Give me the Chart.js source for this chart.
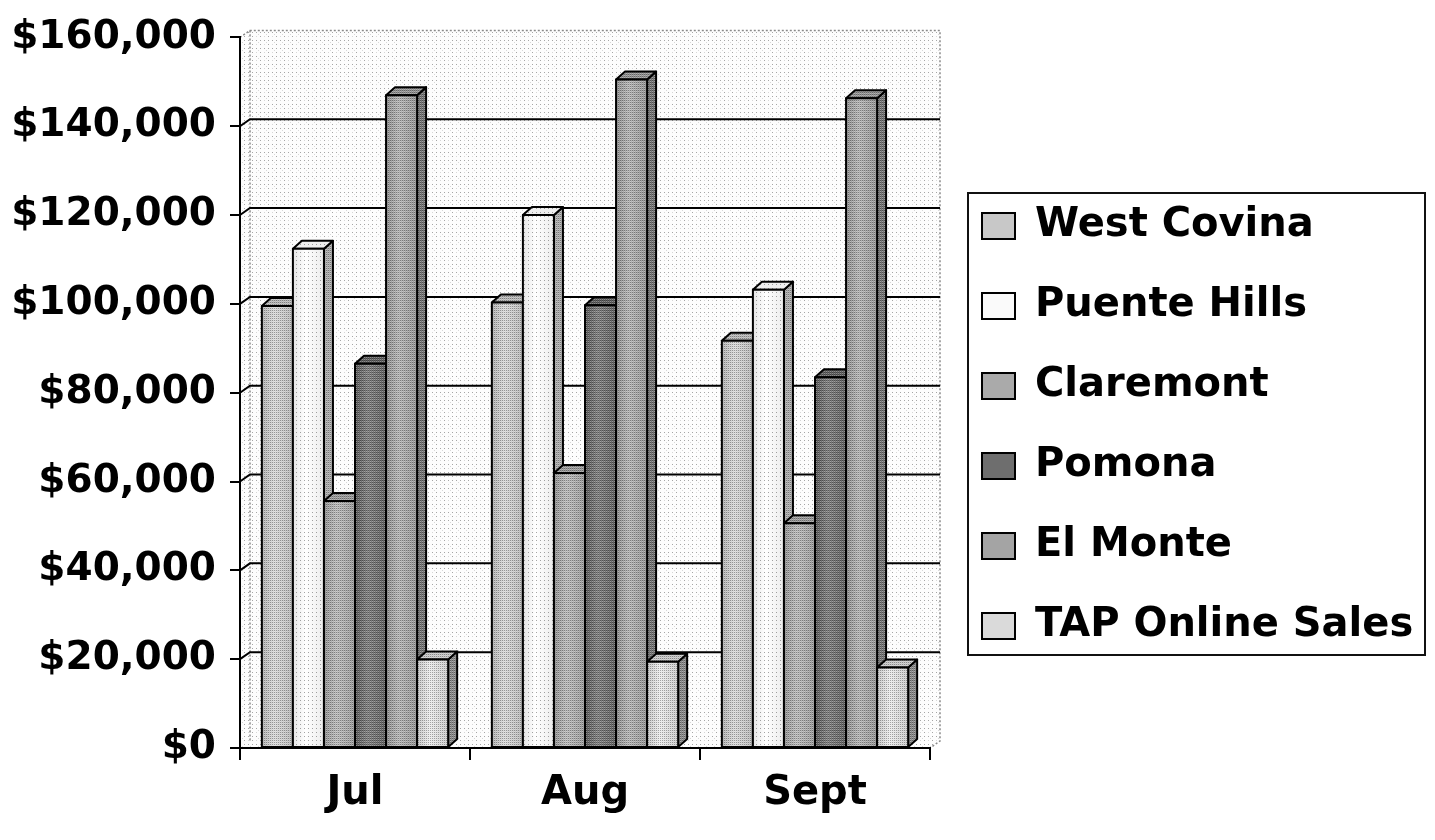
<!DOCTYPE html>
<html>
<head>
<meta charset="utf-8">
<title>Monthly Sales by Store</title>
<script src="https://cdn.jsdelivr.net/npm/chart.js@4.4.0/dist/chart.umd.min.js"></script>
<style>
  html, body { margin: 0; padding: 0; background: #fff; }
  canvas { display: block; }
</style>
</head>
<body>
<canvas id="salesChart" width="1435" height="840"></canvas>
<script>
// ---- data ----
const months = ['Jul', 'Aug', 'Sept'];
const storeNames = ['West Covina', 'Puente Hills', 'Claremont', 'Pomona', 'El Monte', 'TAP Online Sales'];
const westCovina  = [99500, 100300, 91700];
const puenteHills = [112400, 120000, 103200];
const claremont   = [55600, 61900, 50600];
const pomona      = [86500, 99700, 83500];
const elMonte     = [147000, 150500, 146300];
const tapOnline   = [19900, 19400, 18100];
const yTickValues = [0, 20000, 40000, 60000, 80000, 100000, 120000, 140000, 160000];

// ---- styling ----
const frontGray = [200, 250, 170, 110, 164, 218];
const sideGray  = [150, 172, 126, 80, 116, 138];
const topGray   = [184, 238, 154, 94, 146, 198];
const FONT_FAMILY = "'DejaVu Sans', sans-serif";
const BAR_DX = 9, BAR_DY = 8;     // bar depth
const WALL_DX = 10, WALL_DY = 7;  // wall depth
const PLOT_RIGHT = 930;

const gray = (v, a) => {
  v = Math.max(0, Math.min(255, Math.round(v)));
  return a === undefined ? `rgb(${v},${v},${v})` : `rgba(${v},${v},${v},${a})`;
};

// 8x8 ordered-dither matrix used for the stipple textures
const BAYER8 = [
  [0, 32, 8, 40, 2, 34, 10, 42],
  [48, 16, 56, 24, 50, 18, 58, 26],
  [12, 44, 4, 36, 14, 46, 6, 38],
  [60, 28, 52, 20, 62, 30, 54, 22],
  [3, 35, 11, 43, 1, 33, 9, 41],
  [51, 19, 59, 27, 49, 17, 57, 25],
  [15, 47, 7, 39, 13, 45, 5, 37],
  [63, 31, 55, 23, 61, 29, 53, 21]
];

function makeTile(pixelFn, base) {
  const c = document.createElement('canvas');
  c.width = c.height = 8;
  const g = c.getContext('2d');
  if (base) { g.fillStyle = base; g.fillRect(0, 0, 8, 8); }
  for (let y = 0; y < 8; y++) {
    for (let x = 0; x < 8; x++) {
      const col = pixelFn(BAYER8[y][x], x, y);
      if (col) { g.fillStyle = col; g.fillRect(x, y, 1, 1); }
    }
  }
  return c;
}

const ctx = document.getElementById('salesChart').getContext('2d');
const grainPattern = ctx.createPattern(makeTile(v => v < 16 ? 'rgba(0,0,0,0.30)' : (v > 47 ? 'rgba(255,255,255,0.30)' : null)), 'repeat');
const sparsePattern = ctx.createPattern(makeTile(v => v < 4 ? 'rgba(0,0,0,0.35)' : null), 'repeat');
const wallPattern = ctx.createPattern(makeTile(v => v < 3 ? '#a6a6a6' : (v < 5 ? '#d8d8d8' : null), '#fdfdfd'), 'repeat');

function texture(i) { return i === 1 ? sparsePattern : grainPattern; }

// ---- walls, floor and gridlines behind the bars ----
function drawWalls(chart) {
  const {ctx, chartArea: a, scales: {y: ys}} = chart;
  const L = a.left, R = a.right, T = a.top, B = a.bottom;
  ctx.save();
  ctx.fillStyle = wallPattern;
  // back wall
  ctx.fillRect(L + WALL_DX, T - WALL_DY, R - L, B - T);
  // side wall
  ctx.beginPath();
  ctx.moveTo(L, T); ctx.lineTo(L + WALL_DX, T - WALL_DY);
  ctx.lineTo(L + WALL_DX, B - WALL_DY); ctx.lineTo(L, B); ctx.closePath();
  ctx.fill();
  // floor
  ctx.beginPath();
  ctx.moveTo(L, B); ctx.lineTo(L + WALL_DX, B - WALL_DY);
  ctx.lineTo(R + WALL_DX, B - WALL_DY); ctx.lineTo(R, B); ctx.closePath();
  ctx.fill();

  // dotted outline of the walls
  ctx.strokeStyle = '#8a8a8a';
  ctx.lineWidth = 1.5;
  ctx.setLineDash([2, 2]);
  ctx.beginPath();
  ctx.moveTo(L, T); ctx.lineTo(L + WALL_DX, T - WALL_DY);
  ctx.lineTo(R + WALL_DX, T - WALL_DY); ctx.lineTo(R + WALL_DX, B - WALL_DY);
  ctx.lineTo(R, B);
  ctx.moveTo(L + WALL_DX, T - WALL_DY); ctx.lineTo(L + WALL_DX, B - WALL_DY);
  ctx.stroke();
  ctx.setLineDash([]);

  // gridlines on the back wall with their diagonal links on the side wall
  ctx.strokeStyle = '#000';
  ctx.lineWidth = 2;
  yTickValues.forEach(v => {
    if (v === 0 || v === yTickValues[yTickValues.length - 1]) return;
    const py = ys.getPixelForValue(v);
    ctx.beginPath();
    ctx.moveTo(L, py);
    ctx.lineTo(L + WALL_DX, py - WALL_DY);
    ctx.lineTo(R + WALL_DX, py - WALL_DY);
    ctx.stroke();
  });
  ctx.restore();
}

// ---- 3D column drawn from a bar element's geometry ----
function drawColumn(ctx, i, l, r, t, b) {
  ctx.save();
  ctx.lineWidth = 2;
  ctx.strokeStyle = '#000';
  ctx.lineJoin = 'round';

  // side face
  ctx.beginPath();
  ctx.moveTo(r, b); ctx.lineTo(r, t);
  ctx.lineTo(r + BAR_DX, t - BAR_DY); ctx.lineTo(r + BAR_DX, b - BAR_DY);
  ctx.closePath();
  ctx.fillStyle = gray(sideGray[i]); ctx.fill();
  ctx.fillStyle = grainPattern; ctx.fill();
  ctx.stroke();

  // top face
  ctx.beginPath();
  ctx.moveTo(l, t); ctx.lineTo(l + BAR_DX, t - BAR_DY);
  ctx.lineTo(r + BAR_DX, t - BAR_DY); ctx.lineTo(r, t);
  ctx.closePath();
  ctx.fillStyle = gray(topGray[i]); ctx.fill();
  ctx.fillStyle = texture(i); ctx.fill();
  ctx.stroke();

  // front face with a soft vertical highlight
  const f = frontGray[i];
  const grad = ctx.createLinearGradient(l, 0, r, 0);
  grad.addColorStop(0, gray(f - 22));
  grad.addColorStop(0.4, gray(f + 18));
  grad.addColorStop(1, gray(f - 14));
  ctx.fillStyle = grad;
  ctx.fillRect(l, t, r - l, b - t);
  ctx.fillStyle = texture(i);
  ctx.fillRect(l, t, r - l, b - t);
  ctx.strokeRect(l, t, r - l, b - t);
  ctx.restore();
}

const threeDPlugin = {
  id: 'threeD',
  beforeDraw(chart) { drawWalls(chart); },
  afterDatasetsDraw(chart) {
    const c = chart.ctx;
    const count = chart.data.labels.length;
    const metas = chart.data.datasets.map((d, i) => chart.getDatasetMeta(i));
    for (let j = 0; j < count; j++) {
      metas.forEach((meta, i) => {
        const el = meta.data[j];
        const {x, y, base, width} = el.getProps(['x', 'y', 'base', 'width'], true);
        drawColumn(c, i, x - width / 2, x + width / 2, y, base);
      });
    }
  }
};

// ---- legend placement and frame ----
const legendFrame = {
  id: 'legendFrame',
  afterLayout(chart) {
    const lg = chart.legend;
    const p = lg.options.labels.padding;
    const sx = chart.chartArea.right + 52 - (lg.left + p);
    lg.left += sx; lg.right += sx;
    lg.top -= 10; lg.bottom -= 10;
  },
  afterDraw(chart) {
    const hb = chart.legend.legendHitBoxes;
    if (!hb || !hb.length) return;
    const c = chart.ctx;
    const left = hb[0].left - 14;
    const top = hb[0].top - 13;
    const bottom = hb[hb.length - 1].top + hb[hb.length - 1].height + 9;
    const right = chart.width - 10;
    c.save();
    c.strokeStyle = '#111';
    c.lineWidth = 2;
    c.strokeRect(left, top, right - left, bottom - top);
    c.restore();
  }
};

const seriesValues = [westCovina, puenteHills, claremont, pomona, elMonte, tapOnline];

const chart = new Chart(ctx, {
  type: 'bar',
  data: {
    labels: months,
    datasets: storeNames.map((name, i) => ({
      label: name,
      data: seriesValues[i],
      backgroundColor: gray(frontGray[i]),
      borderColor: '#000',
      borderWidth: 2,
      barPercentage: 1.0,
      categoryPercentage: 0.81
    }))
  },
  options: {
    responsive: false,
    animation: false,
    devicePixelRatio: 1,
    layout: { padding: { top: 32, right: 16, bottom: 0, left: 0 } },
    plugins: {
      tooltip: { enabled: false },
      legend: {
        position: 'right',
        align: 'center',
        maxWidth: 560,
        labels: {
          color: '#000',
          font: { family: FONT_FAMILY, size: 40, weight: 'bold' },
          boxWidth: 33,
          boxHeight: 26,
          padding: 40
        }
      }
    },
    scales: {
      x: {
        grid: { display: true, drawOnChartArea: false, drawTicks: true, tickLength: 12, color: '#000', lineWidth: 2, offset: true },
        border: { display: true, color: '#000', width: 2 },
        ticks: { color: '#000', font: { family: FONT_FAMILY, size: 40, weight: 'bold' }, padding: 10 },
        afterFit(s) { s.height = 92; }
      },
      y: {
        min: 0,
        max: 160000,
        afterBuildTicks(s) { s.ticks = yTickValues.map(v => ({ value: v })); },
        grid: { display: true, drawOnChartArea: false, drawTicks: true, tickLength: 10, color: '#000', lineWidth: 2 },
        border: { display: true, color: '#000', width: 2 },
        ticks: {
          color: '#000',
          font: { family: FONT_FAMILY, size: 39, weight: 'bold' },
          padding: 14,
          callback: v => '$' + Number(v).toLocaleString('en-US')
        },
        afterFit(s) { s.width = 240; }
      }
    }
  },
  plugins: [threeDPlugin, legendFrame]
});

// keep the plot's right edge fixed regardless of measured legend width
for (let k = 0; k < 3; k++) {
  const diff = chart.chartArea.right - PLOT_RIGHT;
  if (Math.abs(diff) < 0.5) break;
  chart.options.layout.padding.right += diff;
  chart.update();
}
</script>
</body>
</html>
